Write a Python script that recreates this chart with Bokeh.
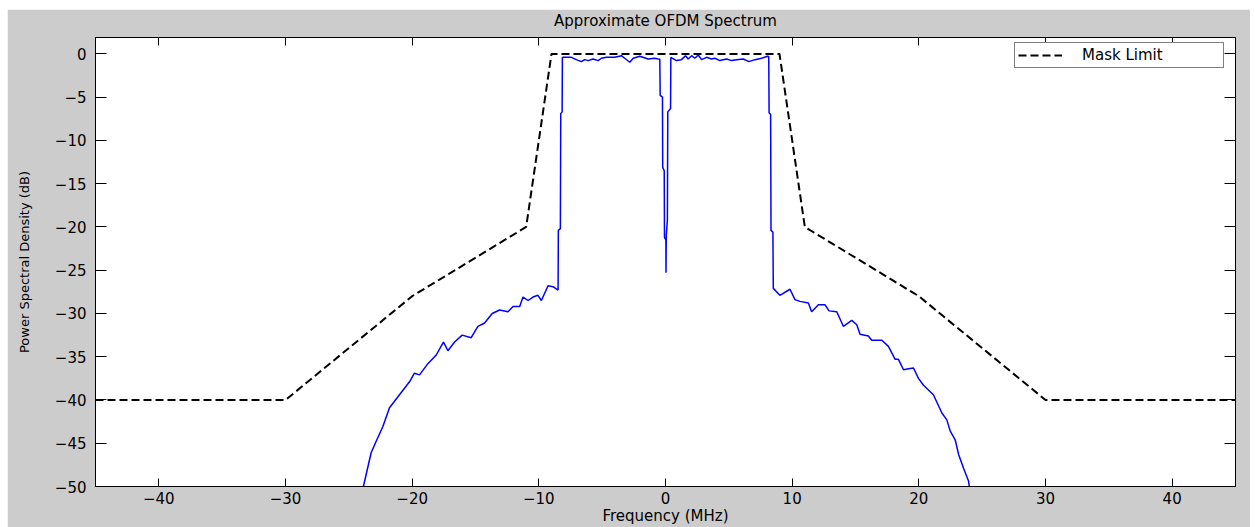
from bokeh.plotting import figure
from bokeh.models import Range1d, FixedTicker, LinearAxis, Legend, LegendItem, Spacer, Title
from bokeh.layouts import column, row
from bokeh.embed import file_html
from bokeh.resources import INLINE

# ---- data ----
freq_mhz = [
    -23.85, -23.24, -22.85, -22.32, -21.79, -21.0, -20.21, -19.82, -19.42, -18.76,
    -18.1, -17.53, -17.18, -16.65, -16.05, -15.34, -14.81, -14.28, -13.68, -13.1,
    -12.43, -12.04, -11.51, -11.25, -10.85, -10.46, -10.07, -9.8, -9.27, -8.88,
    -8.48, -8.46, -8.3, -8.27, -8.16, -8.14,
    -8.09, -7.43, -7.04, -6.64, -6.38, -6.11, -5.72, -5.32, -5.06, -4.66,
    -4.0, -3.48, -3.22, -2.82, -2.55, -2.03, -1.37, -0.85, -0.58,
    -0.45, -0.42, -0.24, -0.22, -0.1, -0.08, 0.03, 0.04, 0.06, 0.15, 0.18, 0.40, 0.42,
    0.87, 1.26, 1.58, 1.79, 2.06, 2.32, 2.58, 2.85, 3.24, 3.64, 3.9, 4.29, 4.82,
    5.22, 5.61, 6.14, 6.59, 7.06, 7.59, 8.06,
    8.15, 8.18, 8.3, 8.33, 8.48, 8.51,
    9.03, 9.83, 10.22, 10.62, 11.28, 11.54, 12.07, 12.6, 12.91, 13.52, 14.05, 14.7,
    15.1, 15.36, 16.02, 16.28, 17.08, 17.6, 18.13, 18.39, 18.79, 19.18, 19.58, 19.97,
    20.37, 21.15, 21.82, 22.21, 22.48, 22.87, 23.14, 23.53, 23.93, 23.98,
]
psd_db = [
    -50.0, -46.1, -44.8, -43.1, -40.9, -39.4, -37.9, -36.9, -37.1, -35.8,
    -34.8, -33.3, -34.3, -33.3, -32.5, -32.8, -31.5, -31.1, -30.0, -29.6,
    -29.8, -29.2, -29.2, -28.1, -28.5, -28.1, -27.9, -28.5, -26.8, -26.9,
    -27.3, -20.4, -20.2, -6.9, -6.7, -0.4,
    -0.39, -0.39, -0.66, -0.89, -0.66, -0.77, -0.58, -0.77, -0.5, -0.39,
    -0.39, -0.2, -0.5, -0.96, -0.5, -0.27, -0.58, -0.5, -0.58,
    -0.6, -4.8, -5.0, -13.1, -13.5, -21.2, -21.5, -25.3, -21.0, -19.2, -6.7, -6.3, -0.4,
    -0.77, -0.66, -0.2, -0.58, -0.2, -0.5, -0.12, -0.66, -0.39, -0.58, -0.5, -0.77, -0.58,
    -0.77, -0.66, -0.58, -0.89, -0.66, -0.5, -0.27,
    -0.3, -6.8, -7.0, -20.4, -20.6, -27.1,
    -27.9, -27.2, -28.4, -28.6, -28.8, -29.8, -29.0, -29.0, -29.7, -29.8, -31.5, -30.8,
    -31.3, -32.4, -32.6, -33.1, -33.1, -33.8, -35.3, -35.3, -36.5, -36.4, -36.3, -37.5,
    -38.3, -39.4, -41.5, -42.3, -43.6, -44.6, -46.3, -47.9, -49.4, -50.0,
]
mask_freq = [-45, -30, -20, -11, -9, 9, 11, 20, 30, 45]
mask_db = [-40, -40, -28, -20, 0, 0, -20, -28, -40, -40]
x_ticks = [-40, -30, -20, -10, 0, 10, 20, 30, 40]
y_ticks = [0, -5, -10, -15, -20, -25, -30, -35, -40, -45, -50]

FONT = "DejaVu Sans"

p = figure(
    width=1243, height=518, output_backend="svg", toolbar_location=None,
    x_range=Range1d(-45, 45), y_range=Range1d(-50, 1.9),
    min_border_left=88, min_border_right=15, min_border_top=28, min_border_bottom=40,
    title="Approximate OFDM Spectrum",
)
p.border_fill_color = "#cccccc"
p.background_fill_color = "white"
p.outline_line_color = "black"
p.outline_line_width = 1
p.grid.visible = False

p.title.align = "center"
p.title.text_font = FONT
p.title.text_font_size = "15px"
p.title.text_font_style = "normal"
p.title.text_color = "black"
p.title.standoff = 0

def style_axis(ax, ticks, tick_len, show_labels):
    ax.ticker = FixedTicker(ticks=ticks)
    ax.major_tick_in = tick_len
    ax.major_tick_out = 0
    ax.minor_tick_line_color = None
    ax.axis_line_color = "black"
    ax.major_tick_line_color = "black"
    ax.major_label_text_font = FONT
    ax.major_label_text_color = "black"
    if show_labels:
        ax.major_label_text_font_size = "15px"
    else:
        ax.major_label_text_font_size = "0px"
        ax.major_label_standoff = 0

xa = p.xaxis[0]
style_axis(xa, x_ticks, 8, True)
xa.major_label_standoff = 5
xa.axis_label = "Frequency (MHz)"
xa.axis_label_text_font = FONT
xa.axis_label_text_font_size = "15px"
xa.axis_label_text_font_style = "normal"
xa.axis_label_text_color = "black"
xa.axis_label_standoff = 0

ya = p.yaxis[0]
style_axis(ya, y_ticks, 11, True)
ya.major_label_standoff = 9
ya.axis_label = "Power Spectral Density (dB)"
ya.axis_label_text_font = FONT
ya.axis_label_text_font_size = "13px"
ya.axis_label_text_font_style = "normal"
ya.axis_label_text_color = "black"
ya.axis_label_standoff = 20

top_ax = LinearAxis()
style_axis(top_ax, x_ticks, 8, False)
p.add_layout(top_ax, "above")
# blank spacer title to lift the real title a little away from the frame
p.add_layout(Title(text=" ", text_font_size="6px", standoff=0), "above")
right_ax = LinearAxis()
style_axis(right_ax, y_ticks, 11, False)
p.add_layout(right_ax, "right")

mask_r = p.line(mask_freq, mask_db, line_color="black", line_width=2, line_dash="8 4")
psd_r = p.line(freq_mhz, psd_db, line_color="#0000ff", line_width=1.5)

legend = Legend(items=[LegendItem(label="Mask Limit", renderers=[mask_r])],
                location=(919, 418))
legend.border_line_color = "black"
legend.border_line_width = 1
legend.background_fill_color = "white"
legend.background_fill_alpha = 1
legend.label_text_font = FONT
legend.label_text_font_size = "15px"
legend.label_text_color = "black"
legend.padding = 3
legend.margin = 0
legend.spacing = 0
legend.glyph_width = 44
legend.glyph_height = 14
legend.label_standoff = 20
legend.label_width = 138
legend.label_height = 14
p.add_layout(legend)

page = column(Spacer(width=1, height=9), row(Spacer(width=7, height=1), p))

open("out.html", "w").write(file_html(page, INLINE))
